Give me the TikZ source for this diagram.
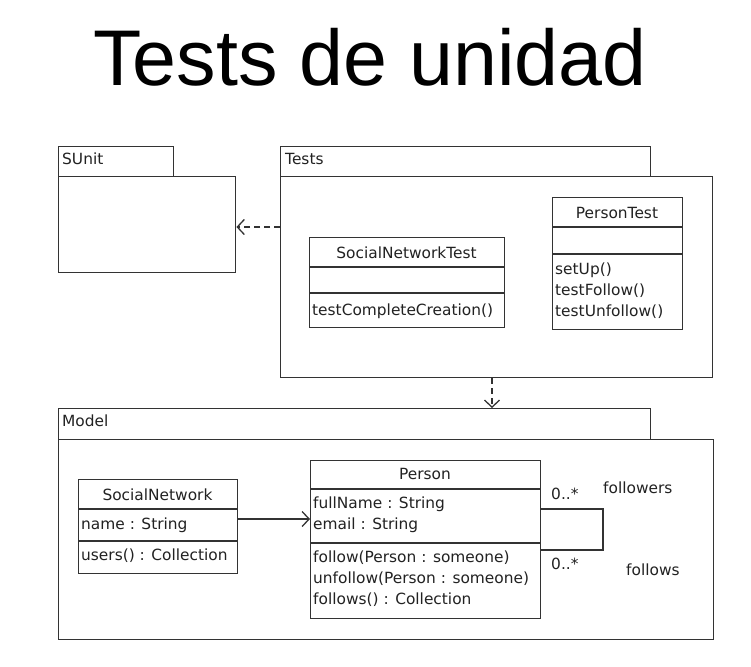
\documentclass[tikz,border=0pt]{standalone}
\usepackage{fontspec}
\setmainfont{DejaVu Sans}
\newfontfamily\titlefont{Liberation Sans}
\usetikzlibrary{arrows.meta}
\definecolor{linec}{HTML}{333333}
\definecolor{textc}{HTML}{222222}
\tikzset{
  box/.style={draw=linec, line width=1.4pt, fill=white, anchor=north west, inner sep=0pt},
  sep/.style={draw=linec, line width=1.3pt},
  lbl/.style={text=textc, font=\fontsize{15.4}{18}\selectfont, inner sep=0pt, anchor=base west},
  clbl/.style={text=textc, font=\fontsize{15.4}{18}\selectfont, inner sep=0pt, anchor=base},
  dep/.style={draw=linec, line width=1.3pt, dash pattern=on 6pt off 4pt, -{Straight Barb[length=7pt,width=15pt,line width=1.3pt]}},
  assoc/.style={draw=linec, line width=1.3pt, -{Straight Barb[length=7pt,width=15pt,line width=1.3pt]}},
  plain/.style={draw=linec, line width=1.3pt},
}
\begin{document}
\begin{tikzpicture}[x=1pt,y=-1pt]
\useasboundingbox (0,0) rectangle (751,666);
% title
\node[inner sep=0pt, anchor=base, font=\titlefont\fontsize{79}{80}\selectfont] (title) at (370,86) {Tests de unidad};

% SUnit package
\node[box, minimum width=115pt, minimum height=30pt] (sunittab) at (58,146) {};
\node[box, minimum width=177pt, minimum height=96pt] (sunitbody) at (58,176) {};
\node[lbl] (sunitname) at (62,164) {SUnit};

% Tests package
\node[box, minimum width=370pt, minimum height=30pt] (teststab) at (280,146) {};
\node[box, minimum width=432pt, minimum height=201pt] (testsbody) at (280,176) {};
\node[lbl] (testsname) at (285,164) {Tests};

% SocialNetworkTest
\node[box, minimum width=195pt, minimum height=90pt] (snt) at (309,237) {};
\draw[sep] (309,267) -- (504,267);
\draw[sep] (309,293) -- (504,293);
\node[clbl] (sntname) at (406.5,258) {SocialNetworkTest};
\node[lbl] (sntm) at (312,315) {testCompleteCreation()};

% PersonTest
\node[box, minimum width=130pt, minimum height=132pt] (pt) at (552,197) {};
\draw[sep] (552,227) -- (682,227);
\draw[sep] (552,254) -- (682,254);
\node[clbl] (ptname) at (617,218) {PersonTest};
\node[lbl] (ptm1) at (555,274) {setUp()};
\node[lbl] (ptm2) at (555,295) {testFollow()};
\node[lbl] (ptm3) at (555,316) {testUnfollow()};

% Model package
\node[box, minimum width=592pt, minimum height=31pt] (modeltab) at (58,408) {};
\node[box, minimum width=655pt, minimum height=200pt] (modelbody) at (58,439) {};
\node[lbl] (modelname) at (62,426) {Model};

% SocialNetwork
\node[box, minimum width=159pt, minimum height=94pt] (sn) at (78,479) {};
\draw[sep] (78,509) -- (237,509);
\draw[sep] (78,541) -- (237,541);
\node[clbl] (snname) at (157.5,500) {SocialNetwork};
\node[lbl] (snattr) at (81,529) {name : String};
\node[lbl] (snop) at (81,560) {users() : Collection};

% Person
\node[box, minimum width=230pt, minimum height=158pt] (person) at (310,460) {};
\draw[sep] (310,489) -- (540,489);
\draw[sep] (310,543) -- (540,543);
\node[clbl] (pname) at (425,479) {Person};
\node[lbl] (pa1) at (313,508) {fullName : String};
\node[lbl] (pa2) at (313,529) {email : String};
\node[lbl] (po1) at (313,562) {follow(Person : someone)};
\node[lbl] (po2) at (313,583) {unfollow(Person : someone)};
\node[lbl] (po3) at (313,604) {follows() : Collection};

% multiplicities and roles
\node[lbl] (m1) at (551,499) {0..*};
\node[lbl] (m2) at (551,569) {0..*};
\node[lbl] (r1) at (603,493) {followers};
\node[lbl] (r2) at (626,575) {follows};

% connectors
\draw[dep] (testsbody.west |- 0,227) -- (sunitbody.east |- 0,227);
\draw[dep] (testsbody.south -| 492,0) -- (modeltab.north -| 492,0);
\draw[assoc] (sn.east |- 0,519) -- (person.west |- 0,519);
\draw[plain] (person.east |- 0,509) -- (603,509) -- (603,550) -- (person.east |- 0,550);
\end{tikzpicture}
\end{document}
